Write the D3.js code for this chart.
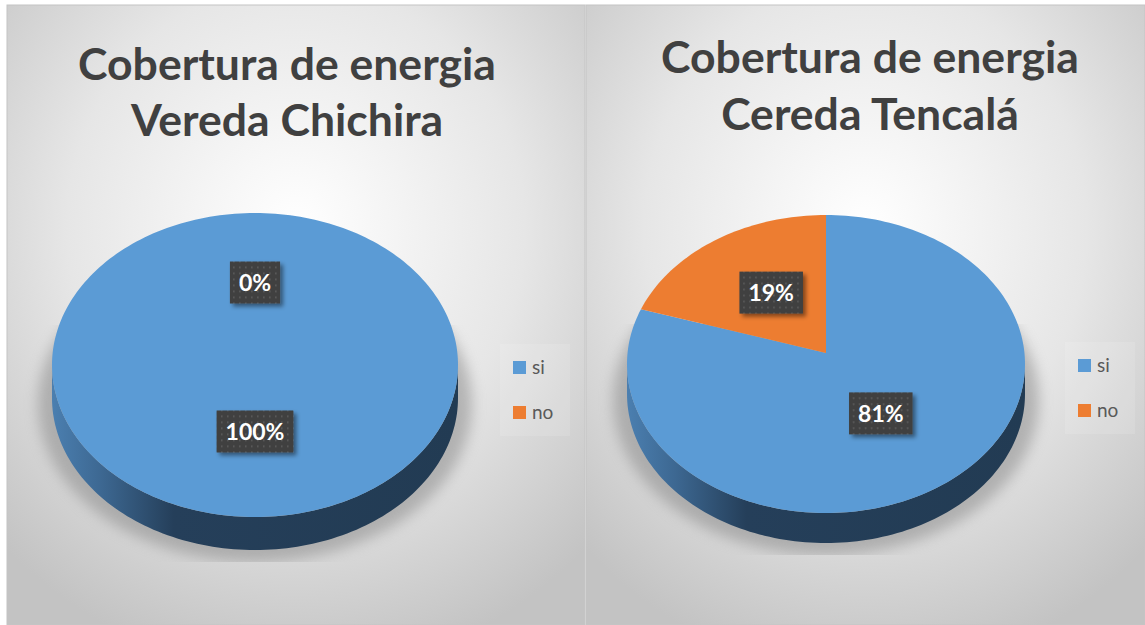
<!DOCTYPE html>
<html>
<head>
<meta charset="utf-8">
<script src="https://cdn.jsdelivr.net/npm/d3@7"></script>
<style>
    body { margin: 0; background: #ffffff; }
    svg { display: block; }
    text { font-family: Lato, "Open Sans", sans-serif; }
</style>
</head>
<body>
<div id="chart-area"></div>
<script>

// data
const categories = ["si", "no"];
const chichiraValues = [100, 0];
const tencalaValues = [81, 19];
const chichiraTitle = ["Cobertura de energia", "Vereda Chichira"];
const tencalaTitle = ["Cobertura de energia", "Cereda Tencalá"];

const colors = d3.scaleOrdinal().domain(categories).range(["#5b9bd5", "#ed7d31"]);

const svg = d3.select("#chart-area").append("svg")
    .attr("width", 1145)
    .attr("height", 625);

const defs = svg.append("defs");

// panel background
let bg = defs.append("radialGradient")
    .attr("id", "panelBg")
    .attr("cx", 0.5).attr("cy", 0.36).attr("r", 0.72);
bg.append("stop").attr("offset", 0).attr("stop-color", "#ffffff");
bg.append("stop").attr("offset", 0.55).attr("stop-color", "#e6e6e6");
bg.append("stop").attr("offset", 1).attr("stop-color", "#c3c3c3");

// dotted pattern for the data labels
let pat = defs.append("pattern")
    .attr("id", "dots")
    .attr("width", 6).attr("height", 6)
    .attr("patternUnits", "userSpaceOnUse");
pat.append("rect").attr("width", 6).attr("height", 6).attr("fill", "#404040");
pat.append("rect").attr("x", 2).attr("y", 2).attr("width", 1.6).attr("height", 1.6).attr("fill", "#5e5e5e");

let drop = defs.append("filter").attr("id", "labelShadow")
    .attr("x", "-20%").attr("y", "-20%").attr("width", "150%").attr("height", "160%");
drop.append("feDropShadow")
    .attr("dx", 3).attr("dy", 3).attr("stdDeviation", 2)
    .attr("flood-color", "#000").attr("flood-opacity", 0.45);

let blur = defs.append("filter").attr("id", "pieShadow")
    .attr("x", "-20%").attr("y", "-20%").attr("width", "140%").attr("height", "140%");
blur.append("feGaussianBlur").attr("stdDeviation", 7);


class pieVis {

    constructor(id, _values, _title, _cfg) {
        this.id = id;
        this.values = _values;
        this.title = _title;
        this.cfg = _cfg;
        this.initVis();
    }

    initVis() {
        let vis = this;
        let c = vis.cfg;

        vis.g = svg.append("g").attr("class", "panel " + vis.id);

        vis.g.append("rect")
            .attr("x", c.x).attr("y", 5)
            .attr("width", c.w).attr("height", 620)
            .attr("fill", "url(#panelBg)")
            .attr("stroke", "#c4c4c4")
            .attr("stroke-width", 1);

        // title, sized so the first line fills the same width as the original
        let title = vis.g.append("text")
            .attr("text-anchor", "middle")
            .attr("fill", "#404040")
            .style("font-weight", "bold")
            .style("font-size", "44px");

        title.selectAll("tspan")
            .data(vis.title)
            .enter()
            .append("tspan")
            .attr("x", c.titleX)
            .attr("y", (d, i) => c.titleY[i])
            .text(d => d);

        let w = title.select("tspan").node().getComputedTextLength();
        title.style("font-size", (44 * 418 / w) + "px");

        // points on the rim of the tilted pie
        vis.rim = (a, dy) => [c.cx + c.rx * Math.sin(a), c.cy - c.ry * Math.cos(a) + dy];

        vis.pie = d3.pie().sort(null).value(d => d.value);
        vis.arc = d3.arc().innerRadius(0).outerRadius(1);

        vis.wrangleData();
    }

    wrangleData() {
        let vis = this;
        vis.displayData = categories.map((d, i) => ({ name: d, value: vis.values[i] }));
        vis.updateVis();
    }

    updateVis() {
        let vis = this;
        let c = vis.cfg;
        let line = d3.line();

        // soft shadow under the pie
        let clipId = "clip-" + vis.id;
        defs.append("clipPath").attr("id", clipId)
            .append("rect")
            .attr("x", c.cx - c.rx - 30).attr("y", c.cy - 40)
            .attr("width", 2 * c.rx + 60)
            .attr("height", c.ry + c.depth + 52);

        vis.g.append("g")
            .attr("clip-path", "url(#" + clipId + ")")
            .append("ellipse")
            .attr("cx", c.cx).attr("cy", c.cy + c.depth + 6)
            .attr("rx", c.rx + 14).attr("ry", c.ry + 6)
            .attr("fill", "#8a8a8a")
            .attr("opacity", 0.55)
            .attr("filter", "url(#pieShadow)");

        // side band of the pie
        let side = defs.append("linearGradient")
            .attr("id", "side-" + vis.id)
            .attr("gradientUnits", "userSpaceOnUse")
            .attr("x1", c.cx - c.rx).attr("x2", c.cx + c.rx)
            .attr("y1", 0).attr("y2", 0);
        side.append("stop").attr("offset", 0).attr("stop-color", "#4b7fb0");
        side.append("stop").attr("offset", 0.12).attr("stop-color", "#3d6892");
        side.append("stop").attr("offset", 0.3).attr("stop-color", "#253f5a");
        side.append("stop").attr("offset", 1).attr("stop-color", "#223b53");

        let angles = d3.range(0, 121).map(i => Math.PI / 2 + i * Math.PI / 120);
        let sidePts = angles.map(a => vis.rim(a, 0))
            .concat(angles.slice().reverse().map(a => vis.rim(a, c.depth)));

        vis.g.append("path")
            .attr("d", line(sidePts) + "Z")
            .attr("fill", "url(#side-" + vis.id + ")");

        // top face slices
        let apex = [c.cx, c.cy + c.apex];
        let arcs = vis.pie(vis.displayData);

        vis.g.selectAll(".slice")
            .data(arcs.filter(d => d.endAngle > d.startAngle))
            .enter()
            .append("path")
            .attr("class", "slice")
            .attr("d", d => {
                let n = Math.max(2, Math.ceil((d.endAngle - d.startAngle) * 40));
                let pts = d3.range(0, n + 1).map(i => vis.rim(d.startAngle + (d.endAngle - d.startAngle) * i / n, 0));
                return line([apex].concat(pts)) + "Z";
            })
            .attr("fill", d => colors(d.data.name));

        // data labels
        let fmt = d => d3.format(".0f")(d) + "%";
        let labels = vis.g.selectAll(".label")
            .data(arcs)
            .enter()
            .append("g")
            .attr("class", "label")
            .attr("transform", d => {
                let p = vis.arc.centroid(d);
                return `translate(${c.cx + p[0] * c.rx * 0.98}, ${c.cy + c.apex + p[1] * c.ry * 0.98})`;
            });

        labels.append("rect")
            .attr("fill", "url(#dots)")
            .attr("filter", "url(#labelShadow)");

        labels.append("text")
            .attr("text-anchor", "middle")
            .attr("dy", "0.36em")
            .attr("fill", "#ffffff")
            .style("font-weight", "bold")
            .style("font-size", "23px")
            .text(d => fmt(d.data.value));

        labels.each(function () {
            let tw = d3.select(this).select("text").node().getComputedTextLength();
            d3.select(this).select("rect")
                .attr("x", -tw / 2 - 9).attr("y", -21)
                .attr("width", tw + 18).attr("height", 42);
        });

        // legend
        vis.g.append("rect")
            .attr("x", c.legX - 13).attr("y", c.legY - 17)
            .attr("width", 70).attr("height", 92)
            .attr("fill", "#ffffff").attr("opacity", 0.12);

        let leg = vis.g.selectAll(".legend")
            .data(categories)
            .enter()
            .append("g")
            .attr("class", "legend")
            .attr("transform", (d, i) => `translate(${c.legX}, ${c.legY + i * 45})`);

        leg.append("rect")
            .attr("width", 13).attr("height", 13)
            .attr("fill", d => colors(d));

        leg.append("text")
            .attr("x", 19).attr("y", 13)
            .attr("fill", "#595959")
            .style("font-size", "19px")
            .text(d => d);
    }
}

new pieVis("chichira", chichiraValues, chichiraTitle, {
    x: 7, w: 578, titleX: 287, titleY: [80, 136],
    cx: 255, cy: 365, rx: 203, ry: 152, depth: 33, apex: -8,
    legX: 513, legY: 361
});

new pieVis("tencala", tencalaValues, tencalaTitle, {
    x: 586, w: 559, titleX: 870, titleY: [73, 130],
    cx: 826, cy: 364, rx: 199, ry: 149, depth: 30, apex: -11,
    legX: 1078, legY: 359
});

</script>
</body>
</html>
